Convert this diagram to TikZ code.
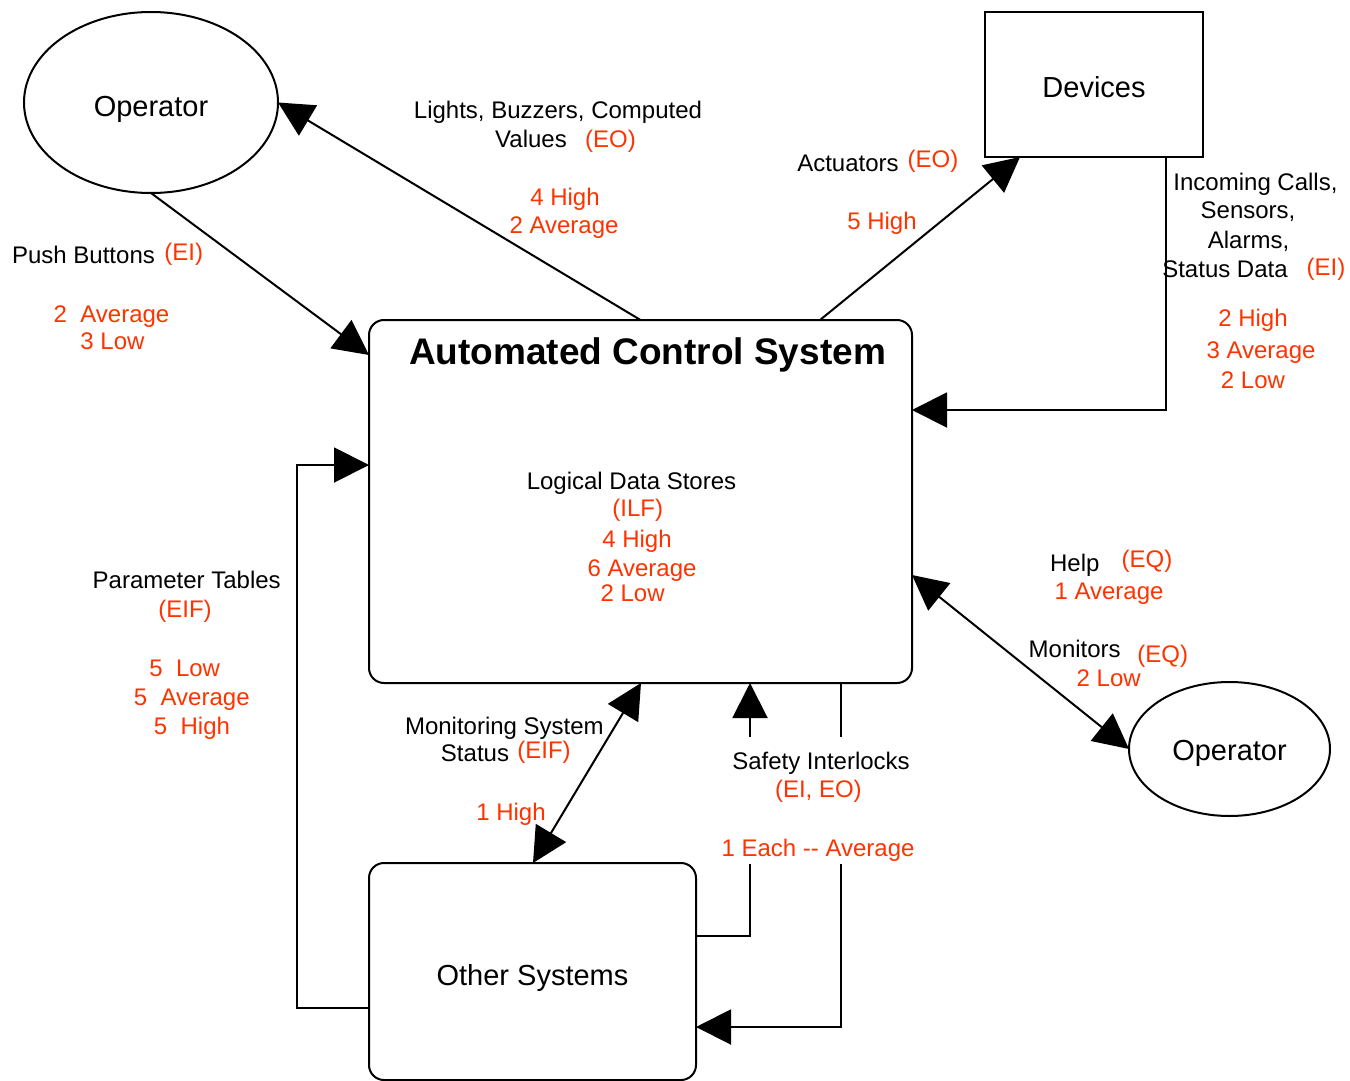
\documentclass[tikz,border=0pt]{standalone}
\usepackage{fontspec}
\setmainfont{Liberation Sans}
\usetikzlibrary{arrows.meta,shapes.geometric}
\definecolor{fpred}{HTML}{FF3300}
\begin{document}
\begin{tikzpicture}[x=1pt,y=-1pt,line width=2pt,
  lbl/.style={font=\fontsize{24}{29}\selectfont,inner sep=0pt,anchor=base},
  rlbl/.style={lbl,text=fpred},
  arr/.style={-{Triangle[length=35pt,width=35pt]}},
  darr/.style={{Triangle[length=35pt,width=35pt]}-{Triangle[length=35pt,width=35pt]}},
  nodefont/.style={font=\fontsize{29}{35}\selectfont},
  ell/.style={draw,ellipse,inner sep=0pt,outer sep=0pt,nodefont,text depth=0pt},
  sqbox/.style={draw,rectangle,inner sep=0pt,outer sep=0pt,nodefont,text depth=0pt},
  rbox/.style={sqbox,rounded corners=15pt}]
\useasboundingbox (0,0) rectangle (1350,1081);

% main shapes
\node[ell,minimum width=254pt,minimum height=181pt,text height=27pt] (op1) at (151,102.5) {Operator};
\node[sqbox,minimum width=218pt,minimum height=145pt,text height=25pt] (dev) at (1094,84.5) {Devices};
\node[rbox,minimum width=543pt,minimum height=363pt] (acs) at (640.5,501.5) {};
\node[rbox,minimum width=327pt,minimum height=217pt,text height=27pt] (os) at (532.5,971.5) {Other Systems};
\node[ell,minimum width=201pt,minimum height=134pt,text height=23.4pt] (op2) at (1229.5,749) {Operator};
\node[font=\bfseries\fontsize{37}{44}\selectfont,inner sep=0pt,anchor=base] (acst) at (647.5,364) {Automated Control System};

% connectors
\draw[arr] (op1.south) -- (acs.west |- 0,355);
\draw[arr] (acs.north) -- (op1.east);
\draw[arr] (acs.north -| 820,0) -- (dev.south -| 1020,0);
\draw[arr] (dev.south -| 1166,0) |- (acs.east |- 0,410);
\draw[arr] (os.west |- 0,1008) -| (297,465) -- (acs.west |- 0,465);
\draw[darr] (acs.south -| 641,0) -- (os.north -| 533,0);
\draw[arr] (os.east |- 0,936) -| (acs.south -| 750,0);
\draw[arr] (acs.south -| 841,0) |- (os.east |- 0,1027);
\draw[darr] (acs.east |- 0,575) -- (op2.west);

% white background of the safety interlock label
\node[fill=white,inner sep=0pt,minimum width=130pt,minimum height=127pt] (simask) at (795.5,800.5) {};

% labels: Lights, Buzzers
\node[lbl] (t1) at (558,118) {Lights, Buzzers, Computed};
\node[lbl] (t2) at (531,147) {Values};
\node[rlbl] (t3) at (610.5,147) {(EO)};
\node[rlbl] (t4) at (565,205) {4 High};
\node[rlbl] (t5) at (564,233) {2 Average};
% Actuators
\node[lbl] (t6) at (848,171) {Actuators};
\node[rlbl] (t7) at (933,167) {(EO)};
\node[rlbl] (t8) at (882,229) {5 High};
% Incoming calls
\node[lbl] (t9) at (1255.5,190) {Incoming Calls,};
\node[lbl] (t10) at (1248,218) {Sensors,};
\node[lbl] (t11) at (1248.5,248) {Alarms,};
\node[lbl] (t12) at (1225,277) {Status Data};
\node[rlbl] (t13) at (1326,275) {(EI)};
\node[rlbl] (t14) at (1253,326) {2 High};
\node[rlbl] (t15) at (1261,358) {3 Average};
\node[rlbl] (t16) at (1253,388) {2 Low};
% Push buttons
\node[lbl] (t17) at (83.5,263) {Push Buttons};
\node[rlbl] (t18) at (183.7,260) {(EI)};
\node[rlbl] (t19) at (111.5,322) {2\ \ Average};
\node[rlbl] (t20) at (112.5,349) {3 Low};
% Logical data stores
\node[lbl] (t21) at (631.5,489) {Logical Data Stores};
\node[rlbl] (t22) at (637.8,516) {(ILF)};
\node[rlbl] (t23) at (637,547) {4 High};
\node[rlbl] (t24) at (642,576) {6 Average};
\node[rlbl] (t25) at (632.6,601.7) {2 Low};
% Parameter tables
\node[lbl] (t26) at (186.7,588) {Parameter Tables};
\node[rlbl] (t27) at (185,617) {(EIF)};
\node[rlbl] (t28) at (184.7,676) {5\ \ Low};
\node[rlbl] (t29) at (191.8,705) {5\ \ Average};
\node[rlbl] (t30) at (192,734) {5\ \ High};
% Help / Monitors
\node[lbl] (t31) at (1074.8,571) {Help};
\node[rlbl] (t32) at (1147,567) {(EQ)};
\node[rlbl] (t33) at (1109,599) {1 Average};
\node[lbl] (t34) at (1074.7,657) {Monitors};
\node[rlbl] (t35) at (1162.8,662) {(EQ)};
\node[rlbl] (t36) at (1108.7,686) {2 Low};
% Monitoring system status
\node[lbl] (t37) at (504.4,734) {Monitoring System};
\node[lbl] (t38) at (475,761.7) {Status};
\node[rlbl] (t39) at (544,758) {(EIF)};
\node[rlbl] (t40) at (511,820) {1 High};
% Safety interlocks
\node[lbl] (t41) at (821,769) {Safety Interlocks};
\node[rlbl] (t42) at (818.4,797) {(EI, EO)};
\node[rlbl] (t43) at (818,856.7) {1 Each {-}{-} Average};
\end{tikzpicture}
\end{document}
